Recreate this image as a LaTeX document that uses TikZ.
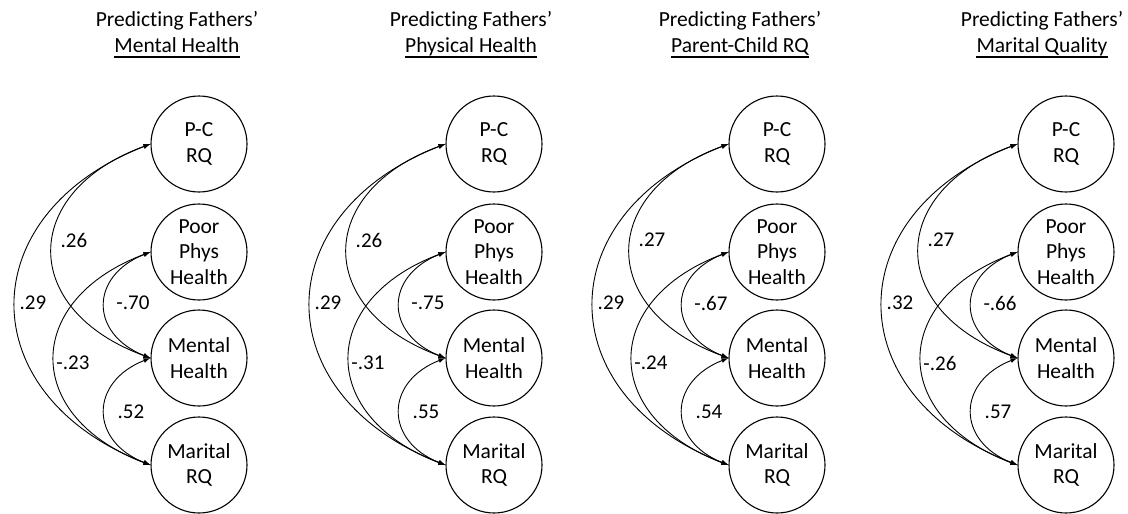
\documentclass[tikz,border=0pt]{standalone}
\usepackage{fontspec}
\setmainfont{Carlito}[Ligatures=NoCommon]
\usetikzlibrary{arrows.meta,calc}
\tikzset{
  var/.style={draw, circle, line width=1.1pt, minimum size=96pt, inner sep=0pt, align=center,
    font=\fontsize{21.5}{25.5}\selectfont},
  ttl/.style={anchor=base, inner sep=0pt, font=\fontsize{21.5}{26}\selectfont},
  uline/.style={line width=1.5pt},
  lab/.style={inner sep=0pt, font=\fontsize{21}{24}\selectfont},
  corr/.style={line width=0.9pt, {Latex[length=7pt,width=5pt]}-{Latex[length=7pt,width=5pt]}}
}
\newcommand\fpanel[9]{%
  \node[var] (pc#1) at (#2,144) {P-C\\RQ};
  \node[var] (pp#1) at (#2,252) {Poor\\Phys\\Health};
  \node[var] (mh#1) at (#2,358) {Mental\\Health};
  \node[var] (mr#1) at (#2,465) {Marital\\RQ};
  \node[ttl] (ta#1) at (#3,26) {Predicting Fathers’};
  \node[ttl] (tb#1) at (#3,52) {#4};
  \draw[uline] ($(tb#1.base west)+(0,5)$) -- ($(tb#1.base east)+(0,5)$);
  \draw[corr] (pc#1.west) .. controls +(-180,70) and +(-180,-70) .. (mr#1.west);
  \draw[corr] (pc#1.west) .. controls +(-131,48) and +(-131,-48) .. (mh#1.west);
  \draw[corr] (pp#1.west) .. controls +(-128,48) and +(-128,-48) .. (mr#1.west);
  \draw[corr] (pp#1.west) .. controls +(-61,24) and +(-61,-24) .. (mh#1.west);
  \draw[corr] (mh#1.west) .. controls +(-61,24) and +(-61,-24) .. (mr#1.west);
  \node[lab] (l1#1) at ($(#2,303)+(-166,0)$) {#5};
  \node[lab] (l2#1) at ($(#2,240)+(-125,0)$) {#6};
  \node[lab] (l3#1) at ($(#2,303)+(-66,0)$) {#7};
  \node[lab] (l4#1) at ($(#2,363)+(-126,0)$) {#8};
  \node[lab] (l5#1) at ($(#2,412)+(-68,0)$) {#9};
}
\begin{document}
\begin{tikzpicture}[x=1pt,y=-1pt]
\useasboundingbox (0,0) rectangle (1128,514);
\fpanel{a}{199}{177}{Mental Health}{.29}{.26}{-.70}{-.23}{.52}
\fpanel{b}{494}{471}{Physical Health}{.29}{.26}{-.75}{-.31}{.55}
\fpanel{c}{777}{740}{Parent-Child RQ}{.29}{.27}{-.67}{-.24}{.54}
\fpanel{d}{1066}{1042}{Marital Quality}{.32}{.27}{-.66}{-.26}{.57}
\end{tikzpicture}
\end{document}
